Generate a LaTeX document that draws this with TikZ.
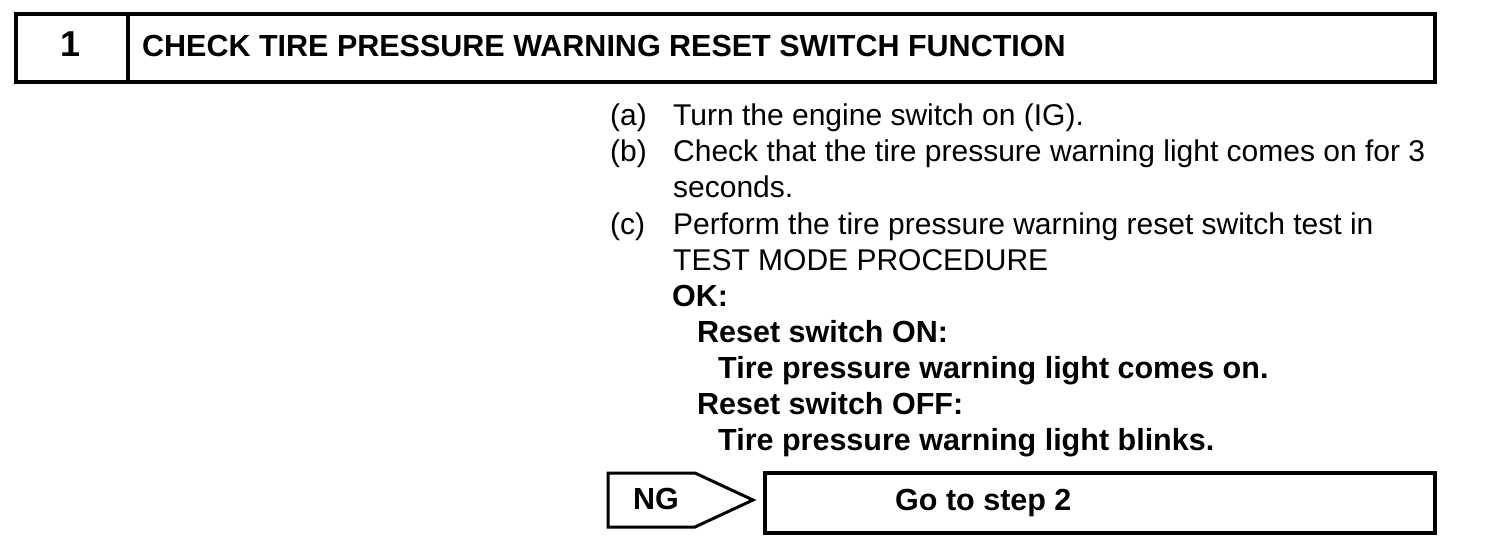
\documentclass[tikz,border=0pt]{standalone}
\usepackage{fontspec}
\setmainfont{Liberation Sans}
\usepackage{tikz}
\usetikzlibrary{arrows.meta}
\newcommand{\txtsize}{\fontsize{30}{36}\selectfont}
\newcommand{\boldsize}{\fontsize{30.5}{36}\selectfont\bfseries}

\begin{document}
\begin{tikzpicture}[x=1pt,y=-1pt,line join=miter]
\useasboundingbox (0,0) rectangle (1504,548);
	%header
	\draw[line width=3.5pt] (16,14) rectangle (1435,82);
	\draw[line width=3.5pt] (128,14) -- (128,82);
\begin{scope}[every node/.style={anchor=base west,inner sep=0pt,font=\txtsize}]
	\node[anchor=base,font=\fontsize{36}{36}\selectfont\bfseries] (num) at (70.5,57) {1};
	\node[font=\boldsize] (title) at (142,57) {CHECK TIRE PRESSURE WARNING RESET SWITCH FUNCTION};
	%steps
	\node (la) at (610,126) {(a)};
	\node (ta) at (673,126) {Turn the engine switch on (IG).};
	\node (lb) at (610,162) {(b)};
	\node (tb) at (673,162) {Check that the tire pressure warning light comes on for 3};
	\node (tb2) at (673,198) {seconds.};
	\node (lc) at (610,234) {(c)};
	\node (tc) at (673,234) {Perform the tire pressure warning reset switch test in};
	\node (tc2) at (673,270) {TEST MODE PROCEDURE};
	%result
	\node[font=\boldsize] (ok) at (672,306) {OK:};
	\node[font=\boldsize] (on) at (697,342) {Reset switch ON:};
	\node[font=\boldsize] (on2) at (718,378) {Tire pressure warning light comes on.};
	\node[font=\boldsize] (off) at (697,414) {Reset switch OFF:};
	\node[font=\boldsize] (off2) at (718,450) {Tire pressure warning light blinks.};
\end{scope}
	%ng
	\draw[line width=3pt] (608,473) -- (695,473) -- (753,500) -- (695,527) -- (608,527) -- cycle;
	\node[anchor=base west,inner sep=0pt,font=\boldsize] (ng) at (633,509) {NG};
	\draw[line width=3.5pt] (765,473) rectangle (1435,533);
	\node[anchor=base west,inner sep=0pt,font=\boldsize] (go) at (895,510) {Go to step 2};
\end{tikzpicture}
\end{document}
